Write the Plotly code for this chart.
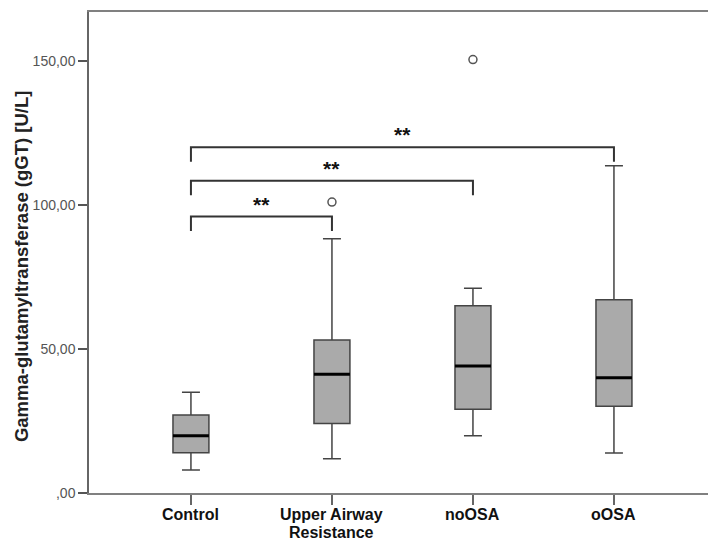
import plotly.graph_objects as go

categories = ["Control", "Upper Airway<br>Resistance", "noOSA", "oOSA"]
q1 = [14.0, 24.1, 29.1, 30.1]
median = [19.9, 41.2, 44.1, 40.0]
q3 = [27.1, 53.1, 65.0, 67.1]
lowerfence = [8.0, 11.9, 19.9, 13.9]
upperfence = [35.0, 88.3, 71.1, 113.6]

outlier_group = [1, 2]
outlier_value = [101.0, 150.5]

bracket_from = [0, 0, 0]
bracket_to = [1, 2, 3]
bracket_level = [96.0, 108.4, 120.0]
bracket_label = ["**", "**", "**"]

y_tickvals = [0, 50, 100, 150]
y_ticktext = [",00", "50,00", "100,00", "150,00"]

BOX_W = 0.255
TIP = 5.0
xs = list(range(len(categories)))

fig = go.Figure()

fig.add_trace(go.Box(
    x=xs, q1=q1, median=median, q3=q3,
    lowerfence=lowerfence, upperfence=upperfence,
    width=BOX_W, whiskerwidth=0.5,
    fillcolor="#aaaaaa", line=dict(color="#444444", width=1.5),
    boxpoints=False, showlegend=False, hoverinfo="skip",
))

# thicker median lines
for i, m in zip(xs, median):
    fig.add_trace(go.Scatter(
        x=[i - BOX_W / 2, i + BOX_W / 2], y=[m, m], mode="lines",
        line=dict(color="#000000", width=3), showlegend=False, hoverinfo="skip",
    ))

fig.add_trace(go.Scatter(
    x=outlier_group, y=outlier_value, mode="markers",
    marker=dict(symbol="circle-open", size=8, color="#555555", line=dict(width=1.5)),
    showlegend=False, hoverinfo="skip",
))

for a, b, lvl, lab in zip(bracket_from, bracket_to, bracket_level, bracket_label):
    fig.add_trace(go.Scatter(
        x=[a, a, b, b], y=[lvl - TIP, lvl, lvl, lvl - TIP], mode="lines",
        line=dict(color="#333333", width=2), showlegend=False, hoverinfo="skip",
    ))
    fig.add_annotation(
        x=(a + b) / 2, y=lvl, text=lab, showarrow=False, yanchor="bottom",
        xanchor="center", yshift=-1,
        font=dict(family="Liberation Sans", size=21, color="#111111", weight="bold"),
    )

# category labels (one annotation per line to control line spacing)
for i, cat in zip(xs, categories):
    for k, line in enumerate(cat.split("<br>")):
        fig.add_annotation(
            x=i, xref="x", yref="paper", y=0, yanchor="top", xanchor="center",
            yshift=-11 - 18 * k, text=line, showarrow=False,
            font=dict(family="Liberation Sans", size=16, color="#111111", weight="bold"),
        )

fig.add_annotation(
    xref="paper", yref="paper", x=-0.108, y=0.472,
    text="Gamma-glutamyltransferase (gGT) [U/L]", textangle=-90, showarrow=False,
    xanchor="center", yanchor="middle",
    font=dict(family="Liberation Sans", size=18.5, color="#222222", weight="bold"),
)

fig.update_layout(
    width=708, height=544,
    margin=dict(l=89, r=0, t=12, b=51),
    paper_bgcolor="#ffffff", plot_bgcolor="#ffffff",
    xaxis=dict(
        range=[-0.723, 3.667], tickvals=xs, showticklabels=False,
        showgrid=False, zeroline=False, showline=True, mirror=True,
        linecolor="#808080", linewidth=2,
        ticks="outside", ticklen=10, tickcolor="#666666", tickwidth=1.5,
    ),
    yaxis=dict(
        range=[0, 167], tickvals=y_tickvals, ticktext=y_ticktext,
        showgrid=False, zeroline=False, showline=True,
        linecolor="#666666", linewidth=1.5,
        ticks="outside", ticklen=9, tickcolor="#555555", tickwidth=1.5,
        tickfont=dict(family="Liberation Sans", size=14, color="#555555"),
    ),
)

fig.write_html(
    "out.html",
    config={"displayModeBar": False},
    post_script="document.body.style.margin='0';document.body.style.overflow='hidden';",
)
